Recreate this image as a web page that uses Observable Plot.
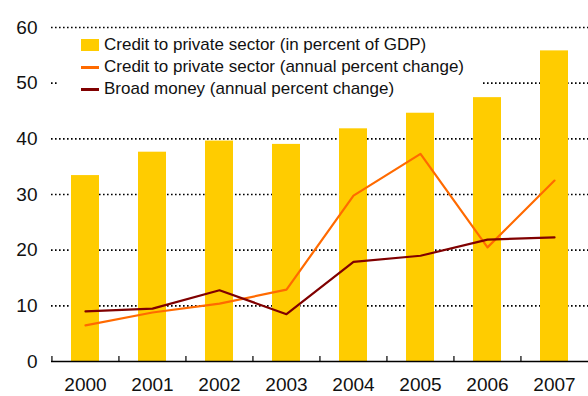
<!DOCTYPE html>
<html>
<head>
<meta charset="utf-8">
<script src="https://cdn.jsdelivr.net/npm/d3@7"></script>
<script src="https://cdn.jsdelivr.net/npm/@observablehq/plot@0.6"></script>
<style>
  html, body { margin: 0; padding: 0; background: #fff; }
  #wrap { position: relative; width: 588px; height: 396px; overflow: hidden; font-family: "Liberation Sans", Arial, sans-serif; }
  #legend { position: absolute; left: 58px; top: 34px; width: 425px; height: 61px; background: #fff; }
  .item { position: absolute; left: 23px; height: 22px; display: flex; align-items: center; font-size: 17px; color: #111; white-space: nowrap; }
  .sw { width: 18px; margin-right: 5px; }
</style>
</head>
<body>
<div id="wrap"></div>
<script>
const years = ["2000","2001","2002","2003","2004","2005","2006","2007"];
const creditGDP = [33.4, 37.6, 39.6, 39.0, 41.8, 44.6, 47.4, 55.8];
const creditChange = [6.5, 8.8, 10.4, 12.9, 29.8, 37.3, 20.5, 32.5];
const broadMoney = [9.0, 9.5, 12.8, 8.5, 17.9, 19.0, 21.9, 22.3];
const yTicks = [0, 10, 20, 30, 40, 50, 60];
const gridTicks = [10, 20, 30, 40, 50, 60];
const seriesNames = [
  "Credit to private sector (in percent of GDP)",
  "Credit to private sector (annual percent change)",
  "Broad money (annual percent change)"
];
const colors = ["#FFCC00", "#FF6A00", "#800000"];

const bars = years.map((y, i) => ({year: y, value: creditGDP[i]}));
const l1 = years.map((y, i) => ({year: y, value: creditChange[i]}));
const l2 = years.map((y, i) => ({year: y, value: broadMoney[i]}));

const W = 588, ML = 51, MR = 0;
const step = (W - ML - MR) / years.length;

const chart = Plot.plot({
  width: W,
  height: 396,
  marginLeft: ML,
  marginRight: MR,
  marginTop: 27,
  marginBottom: 35,
  style: {fontFamily: "'Liberation Sans', Arial, sans-serif", fontSize: "19px", color: "#111", background: "#fff", overflow: "visible"},
  x: {domain: years, paddingInner: 0.583, paddingOuter: 0.2915, label: null},
  y: {domain: [0, 60], label: null},
  marks: [
    Plot.ruleY(gridTicks, {stroke: "#000", strokeWidth: 1.6, strokeDasharray: "1.6,2.4"}),
    Plot.barY(bars, {x: "year", y: "value", fill: colors[0]}),
    Plot.line(l1, {x: "year", y: "value", stroke: colors[1], strokeWidth: 2.2}),
    Plot.line(l2, {x: "year", y: "value", stroke: colors[2], strokeWidth: 2.2}),
    Plot.ruleY([0], {stroke: "#000", strokeWidth: 1.5}),
    Plot.ruleX(years, {x: d => d, y1: 0, y2: 0.9, dx: -step / 2, stroke: "#000", strokeWidth: 1.2}),
    Plot.axisX({tickSize: 0, tickPadding: 16, fontSize: 19}),
    Plot.axisY({ticks: yTicks, tickSize: 0, tickPadding: 14, fontSize: 19})
  ]
});

const wrap = document.getElementById("wrap");
wrap.appendChild(chart);

const legend = document.createElement("div");
legend.id = "legend";
seriesNames.forEach((name, i) => {
  const it = document.createElement("div");
  it.className = "item";
  it.style.top = (i * 22) + "px";
  const sw = document.createElement("span");
  sw.className = "sw";
  if (i === 0) { sw.style.height = "12px"; sw.style.background = colors[0]; }
  else { sw.style.height = "3px"; sw.style.background = colors[i]; }
  it.appendChild(sw);
  const t = document.createElement("span");
  t.textContent = name;
  it.appendChild(t);
  legend.appendChild(it);
});
wrap.appendChild(legend);
</script>
</body>
</html>
